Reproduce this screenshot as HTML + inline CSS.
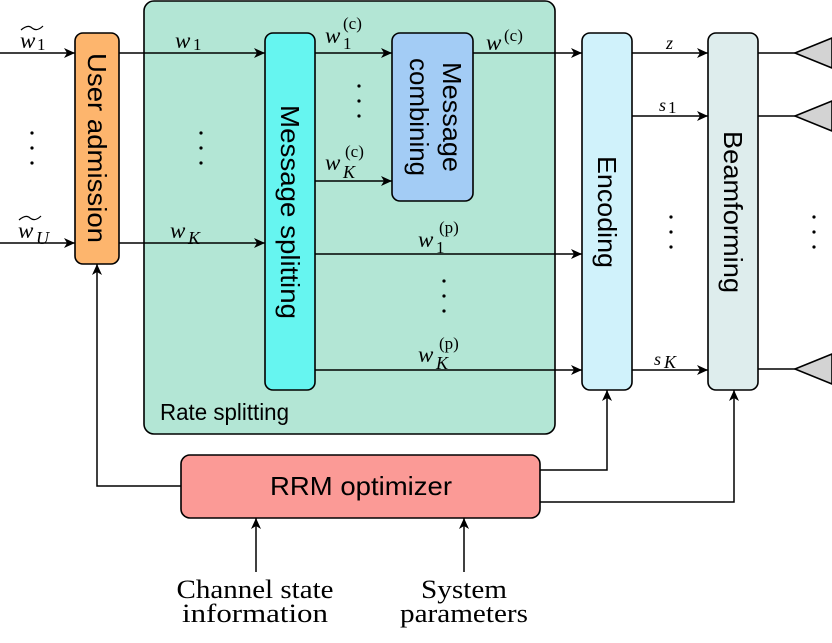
<!DOCTYPE html>
<html><head><meta charset="utf-8"><style>
html,body{margin:0;padding:0;background:#fff;}
svg{display:block;}
.b{font-family:"Liberation Sans",sans-serif;font-size:26px;fill:#000;}
.m{font-family:"Liberation Serif",serif;font-style:italic;font-size:23px;fill:#000;}
.k{font-family:"Liberation Serif",serif;font-style:italic;font-size:18px;fill:#000;}
.r{font-family:"Liberation Serif",serif;font-size:17px;fill:#000;}
.t{font-family:"Liberation Serif",serif;font-size:26px;fill:#000;}
</style></head><body>
<svg width="832" height="643" viewBox="0 0 832 643" xmlns="http://www.w3.org/2000/svg">
<defs>
<marker id="a" markerWidth="12" markerHeight="10" refX="11" refY="5" orient="auto" markerUnits="userSpaceOnUse">
<path d="M0,0 L11,5 L0,10 L3,5 z" fill="#000"/>
</marker>
</defs>
<g stroke="#000" stroke-width="1.6">
<rect x="144" y="1" width="411" height="433" rx="10" fill="#b3e6d5"/>
<rect x="75" y="33" width="44" height="231" rx="8" fill="#fdb56d"/>
<rect x="265" y="33" width="50" height="357" rx="8" fill="#66f5f0"/>
<rect x="392" y="33" width="81" height="168" rx="8" fill="#a3ccf5"/>
<rect x="582" y="33" width="50" height="357" rx="8" fill="#d0f2fb"/>
<rect x="708" y="33" width="50" height="357" rx="8" fill="#deeded"/>
<rect x="181" y="455" width="359" height="63" rx="9" fill="#fb9a96"/>
<polygon points="795,53 832,38 832,68" fill="#d3d3d3"/>
<polygon points="795,116 832,101 832,131" fill="#d3d3d3"/>
<polygon points="795,369 832,354 832,384" fill="#d3d3d3"/>
</g>
<g stroke="#000" stroke-width="1.5" fill="none">
<line x1="0" y1="53" x2="75" y2="53" marker-end="url(#a)"/>
<line x1="0" y1="243" x2="75" y2="243" marker-end="url(#a)"/>
<line x1="119" y1="53" x2="265" y2="53" marker-end="url(#a)"/>
<line x1="119" y1="243" x2="265" y2="243" marker-end="url(#a)"/>
<line x1="315" y1="53" x2="392" y2="53" marker-end="url(#a)"/>
<line x1="315" y1="181" x2="392" y2="181" marker-end="url(#a)"/>
<line x1="315" y1="254" x2="582" y2="254" marker-end="url(#a)"/>
<line x1="315" y1="370" x2="582" y2="370" marker-end="url(#a)"/>
<line x1="473" y1="53" x2="582" y2="53" marker-end="url(#a)"/>
<line x1="632" y1="53" x2="708" y2="53" marker-end="url(#a)"/>
<line x1="632" y1="116" x2="708" y2="116" marker-end="url(#a)"/>
<line x1="632" y1="370" x2="708" y2="370" marker-end="url(#a)"/>
<line x1="758" y1="53" x2="795" y2="53"/>
<line x1="758" y1="116" x2="795" y2="116"/>
<line x1="758" y1="369" x2="795" y2="369"/>
<polyline points="181,486 97,486 97,264" marker-end="url(#a)"/>
<polyline points="540,470 607,470 607,390" marker-end="url(#a)"/>
<polyline points="540,502 734,502 734,390" marker-end="url(#a)"/>
<line x1="256" y1="572" x2="256" y2="518" marker-end="url(#a)"/>
<line x1="464" y1="572" x2="464" y2="518" marker-end="url(#a)"/>
<path d="M21,30 Q28,24 32,28 Q37,32 43,26" stroke-width="1.2"/>
<path d="M19,220 Q26,214 30,218 Q35,222 41,216" stroke-width="1.2"/>
</g>
<g fill="#000">
<circle cx="32" cy="133" r="1.6"/><circle cx="32" cy="148" r="1.6"/><circle cx="32" cy="163" r="1.6"/>
<circle cx="201" cy="133" r="1.6"/><circle cx="201" cy="148" r="1.6"/><circle cx="201" cy="163" r="1.6"/>
<circle cx="359" cy="86" r="1.6"/><circle cx="359" cy="101" r="1.6"/><circle cx="359" cy="116" r="1.6"/>
<circle cx="444" cy="281" r="1.6"/><circle cx="444" cy="296" r="1.6"/><circle cx="444" cy="311" r="1.6"/>
<circle cx="671" cy="217" r="1.6"/><circle cx="671" cy="232" r="1.6"/><circle cx="671" cy="247" r="1.6"/>
<circle cx="814" cy="217" r="1.6"/><circle cx="814" cy="232" r="1.6"/><circle cx="814" cy="247" r="1.6"/>
</g>
<g class="b">
<text transform="translate(88,148) rotate(90)" text-anchor="middle" textLength="190" lengthAdjust="spacingAndGlyphs">User admission</text>
<text transform="translate(281,212) rotate(90)" text-anchor="middle" textLength="214" lengthAdjust="spacingAndGlyphs">Message splitting</text>
<text transform="translate(443,117) rotate(90)" text-anchor="middle" textLength="110" lengthAdjust="spacingAndGlyphs">Message</text>
<text transform="translate(410,117) rotate(90)" text-anchor="middle" textLength="118" lengthAdjust="spacingAndGlyphs">combining</text>
<text transform="translate(598,212) rotate(90)" text-anchor="middle" textLength="112" lengthAdjust="spacingAndGlyphs">Encoding</text>
<text transform="translate(724,212) rotate(90)" text-anchor="middle" textLength="162" lengthAdjust="spacingAndGlyphs">Beamforming</text>
<text x="361" y="495" text-anchor="middle" textLength="182" lengthAdjust="spacingAndGlyphs">RRM optimizer</text>
<text x="160" y="420" font-size="23" textLength="129" lengthAdjust="spacingAndGlyphs">Rate splitting</text>
</g>
<g class="t" text-anchor="middle">
<text x="255" y="598" textLength="157" lengthAdjust="spacingAndGlyphs">Channel state</text>
<text x="255" y="622" textLength="146" lengthAdjust="spacingAndGlyphs">information</text>
<text x="464" y="598" textLength="86" lengthAdjust="spacingAndGlyphs">System</text>
<text x="464" y="622" textLength="128" lengthAdjust="spacingAndGlyphs">parameters</text>
</g>
<!-- math labels -->
<text class="m" x="20" y="48">w</text><text class="r" x="37" y="50">1</text>
<text class="m" x="18" y="238">w</text><text class="k" x="36" y="244">U</text>
<text class="m" x="175" y="48">w</text><text class="r" x="193" y="50">1</text>
<text class="m" x="170" y="238">w</text><text class="k" x="188" y="244">K</text>
<text class="m" x="325" y="43">w</text><text class="r" x="343" y="49">1</text><text class="r" x="343" y="29">(c)</text>
<text class="m" x="325" y="170">w</text><text class="k" x="343" y="178">K</text><text class="r" x="345" y="157">(c)</text>
<text class="m" x="486" y="50">w</text><text class="r" x="504" y="41">(c)</text>
<text class="m" x="418" y="247">w</text><text class="r" x="436" y="253">1</text><text class="r" x="439" y="233">(p)</text>
<text class="m" x="418" y="362">w</text><text class="k" x="436" y="369">K</text><text class="r" x="439" y="349">(p)</text>
<text class="k" x="666" y="49">z</text>
<text class="k" x="659" y="111">s</text><text class="r" x="668" y="113">1</text>
<text class="k" x="654" y="365">s</text><text class="k" x="664" y="368">K</text>
</svg>
</body></html>
